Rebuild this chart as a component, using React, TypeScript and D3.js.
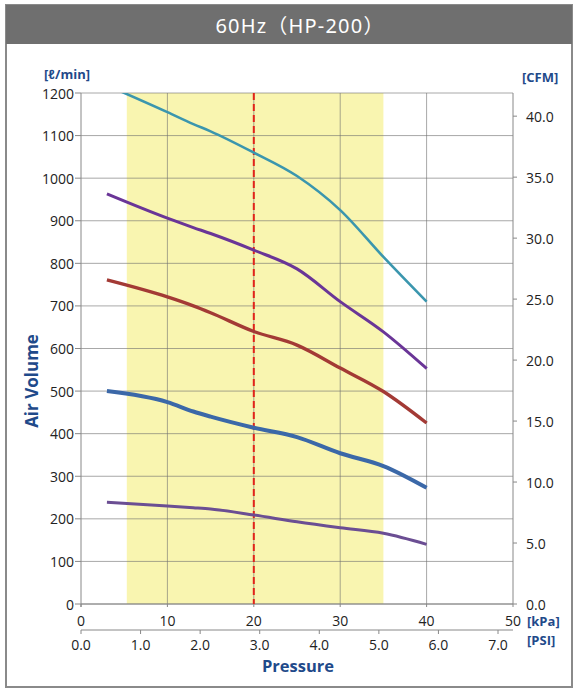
import React from "react";
import * as d3 from "d3";

const kPa = [3, 10, 13, 15, 20, 25, 30, 35, 40];
const seriesTeal = [1218, 1155, 1127, 1110, 1060, 1005, 925, 815, 710];
const seriesPurple = [963, 906, 884, 870, 831, 787, 710, 639, 553];
const seriesRed = [761, 721, 700, 684, 640, 608, 554, 499, 425];
const seriesBlue = [500, 474, 452, 440, 414, 392, 354, 324, 273];
const seriesViolet = [239, 230, 226, 223, 209, 193, 179, 166, 140];

const yTicks = d3.range(0, 1201, 100);
const xTicks = [0, 10, 20, 30, 40, 50];
const xGrid = [10, 20, 30, 40];
const cfmTicks = [0, 5, 10, 15, 20, 25, 30, 35, 40];
const psiTicks = [0, 1, 2, 3, 4, 5, 6, 7];
const band = [5.3, 35];
const refPressure = 20;
const KPA_PER_PSI = 6.895;
const CFM_MAX = 41.9;

const series = [
  { values: seriesTeal, color: "#3b96ae", width: 2.6 },
  { values: seriesPurple, color: "#6a3597", width: 3 },
  { values: seriesRed, color: "#a33a35", width: 3.4 },
  { values: seriesBlue, color: "#3b68a8", width: 4 },
  { values: seriesViolet, color: "#6b4e93", width: 3 },
];

const L = 81, R = 513, T = 93, B = 604;

export default function App() {
  const x = d3.scaleLinear().domain([0, 50]).range([L, R]);
  const y = d3.scaleLinear().domain([0, 1200]).range([B, T]);
  const yc = d3.scaleLinear().domain([0, CFM_MAX]).range([B, T]);
  const xp = d3.scaleLinear().domain([0, 50 / KPA_PER_PSI]).range([L, R]);
  const line = d3
    .line<number>()
    .x((_, i) => x(kPa[i]))
    .y((d) => y(d))
    .curve(d3.curveMonotoneX);
  const font = "'Open Sans', 'Noto Sans', sans-serif";
  const blue = "#1f4a8a";
  const grid = "rgba(110,110,110,0.6)";
  const PSI_Y = 630;

  return (
    <svg
      width={577}
      height={691}
      style={{ position: "absolute", left: 0, top: 0, background: "#fff" }}
      fontFamily={font}
    >
      <defs>
        <clipPath id="plot">
          <rect x={L} y={T} width={R - L} height={B - T} />
        </clipPath>
      </defs>
      <rect x={0} y={0} width={577} height={691} fill="#fff" />
      <rect x={6} y={5} width={566} height={682} fill="#fff" stroke="#8a8a8a" strokeWidth={2} />
      <rect x={6} y={5} width={566} height={39} fill="#6f6f6f" />
      <text
        x={300}
        y={25}
        fill="#fff"
        fontSize={20}
        fontWeight={400}
        textAnchor="middle"
        dominantBaseline="central"
        letterSpacing={1.2}
        fontFamily="'Noto Sans', 'Noto Sans CJK JP', sans-serif"
      >
        60Hz（HP-200）
      </text>

      {/* band */}
      <rect x={x(band[0])} y={T} width={x(band[1]) - x(band[0])} height={B - T} fill="#f9f5b0" />

      {/* grid */}
      {yTicks.map((t) => (
        <line key={"h" + t} x1={L} x2={R} y1={y(t)} y2={y(t)} stroke={grid} strokeWidth={1} />
      ))}
      {xGrid.map((t) => (
        <line key={"v" + t} x1={x(t)} x2={x(t)} y1={T} y2={B} stroke={grid} strokeWidth={1} />
      ))}
      <line x1={L} x2={L} y1={T} y2={B + 3} stroke="#888" />
      <line x1={R} x2={R} y1={T} y2={B} stroke="#888" />
      <line x1={L} x2={R} y1={B} y2={B} stroke="#888" />

      {/* left ticks */}
      {yTicks.map((t) => (
        <g key={"yl" + t}>
          <line x1={L - 6} x2={L} y1={y(t)} y2={y(t)} stroke="#888" />
          <text x={L - 7} y={y(t)} fontSize={14} textAnchor="end" dominantBaseline="central" fill="#222">
            {t}
          </text>
        </g>
      ))}
      {/* right ticks */}
      {cfmTicks.map((t) => (
        <g key={"yr" + t}>
          <line x1={R} x2={R + 4} y1={yc(t)} y2={yc(t)} stroke="#888" />
          <text x={R + 13} y={yc(t)} fontSize={14} dominantBaseline="central" fill="#222">
            {t.toFixed(1)}
          </text>
        </g>
      ))}
      {/* kPa ticks */}
      {xTicks.map((t) => (
        <g key={"xk" + t}>
          <line x1={x(t)} x2={x(t)} y1={B} y2={B + 3} stroke="#888" />
          <text x={x(t)} y={620} fontSize={14} textAnchor="middle" dominantBaseline="central" fill="#222">
            {t}
          </text>
        </g>
      ))}
      {/* PSI axis */}
      <line x1={L} x2={R} y1={PSI_Y} y2={PSI_Y} stroke="#888" />
      {psiTicks.map((t) => (
        <g key={"xp" + t}>
          <line x1={xp(t)} x2={xp(t)} y1={PSI_Y} y2={PSI_Y + 4} stroke="#888" />
          <text x={xp(t)} y={644} fontSize={14} textAnchor="middle" dominantBaseline="central" fill="#222">
            {t.toFixed(1)}
          </text>
        </g>
      ))}

      {/* reference line */}
      <line
        x1={x(refPressure)}
        x2={x(refPressure)}
        y1={T}
        y2={B}
        stroke="#e2231a"
        strokeWidth={2}
        strokeDasharray="7,4"
      />

      {/* curves */}
      <g clipPath="url(#plot)">
        {series.map((s, i) => (
          <path key={i} d={line(s.values) || ""} fill="none" stroke={s.color} strokeWidth={s.width} />
        ))}
      </g>

      {/* axis titles */}
      <text x={44} y={74} fontSize={13} fontWeight="bold" fill={blue} dominantBaseline="central">
        [ℓ/min]
      </text>
      <text x={522} y={77} fontSize={13} fontWeight="bold" fill={blue} dominantBaseline="central">
        [CFM]
      </text>
      <text x={527} y={621} fontSize={13} fontWeight="bold" fill={blue} dominantBaseline="central">
        [kPa]
      </text>
      <text x={527} y={640} fontSize={13} fontWeight="bold" fill={blue} dominantBaseline="central">
        [PSI]
      </text>
      <text x={298} y={665} fontSize={16.5} fontWeight="bold" fill={blue} textAnchor="middle" dominantBaseline="central">
        Pressure
      </text>
      <text
        transform="translate(31,381) rotate(-90)"
        fontSize={17}
        fontWeight="bold"
        fill={blue}
        textAnchor="middle"
        dominantBaseline="central"
      >
        Air Volume
      </text>
    </svg>
  );
}
